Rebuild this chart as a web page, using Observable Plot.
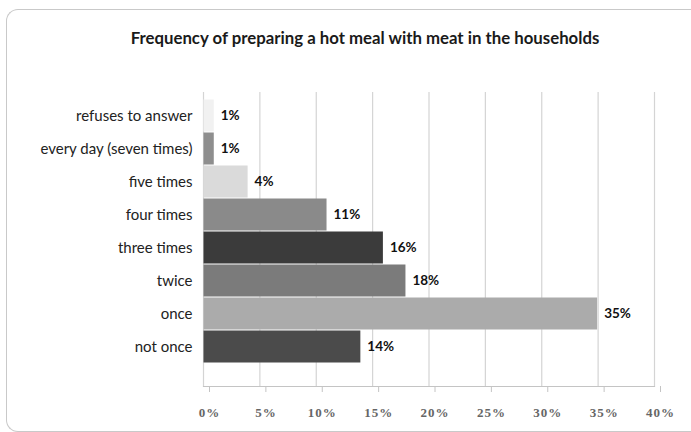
<!DOCTYPE html>
<html>
<head>
<meta charset="utf-8">
<script src="https://cdn.jsdelivr.net/npm/d3@7"></script>
<script src="https://cdn.jsdelivr.net/npm/@observablehq/plot@0.6"></script>
<style>
  html, body { margin: 0; padding: 0; background: #fff; }
  body { width: 691px; height: 432px; position: relative; overflow: hidden; }
  #frame { position: absolute; left: 6px; top: 9px; width: 685px; height: 423px; border: 1.5px solid #c9c9c9; border-right: none; border-radius: 12px 0 0 12px; box-sizing: border-box; }
  #title { position: absolute; left: 0; top: 27px; width: 730px; text-align: center; font-family: Lato, "Open Sans", sans-serif; font-weight: bold; font-size: 16.8px; color: #1a1a1a; }
  #chart { position: absolute; left: 0; top: 60px; }
</style>
</head>
<body>
<div id="frame"></div>
<div id="title">Frequency of preparing a hot meal with meat in the households</div>
<div id="chart"></div>
<script>
const categories = ["refuses to answer", "every day (seven times)", "five times", "four times", "three times", "twice", "once", "not once"];
const values = [1, 1, 4, 11, 16, 18, 35, 14];
const xTicks = [0, 5, 10, 15, 20, 25, 30, 35, 40];
const barColors = ["#f1f1f1", "#8e8e8e", "#dadada", "#8a8a8a", "#3b3b3b", "#7b7b7b", "#ababab", "#4b4b4b"];

const data = categories.map((c, i) => ({category: c, value: values[i]}));

const W = 691, H = 372;
const mTop = 32, mBottom = 46, mLeft = 203, mRight = 37;

const chart = Plot.plot({
  width: W,
  height: H,
  marginTop: mTop,
  marginBottom: mBottom,
  marginLeft: mLeft,
  marginRight: mRight,
  style: {fontFamily: "Lato, 'Open Sans', sans-serif", background: "transparent"},
  x: {domain: [0, 40], ticks: xTicks, label: null},
  y: {domain: categories, range: [36, 305], padding: 0, label: null},
  color: {domain: categories, range: barColors},
  marks: [
    Plot.ruleX(xTicks, {stroke: "#d4d4d4", strokeWidth: 1.2}),
    Plot.frame({anchor: "bottom", stroke: "#c4c4c4", strokeWidth: 1.2}),
    Plot.barX(data, {y: "category", x: "value", fill: "category", inset: 0.5}),
    Plot.text(data, {y: "category", x: "value", text: d => d.value + "%", textAnchor: "start", dx: 6, fontWeight: "bold", fontSize: 13.5, fill: "#111"}),
    Plot.axisX({ticks: xTicks, tickFormat: d => d + "%", tickSize: 6, tickPadding: 15, stroke: "#c4c4c4", fontFamily: "'Liberation Serif', serif", fontSize: 13, fontWeight: "bold", color: "#666", dx: 6, label: null}),
    Plot.axisY({tickSize: 0, tickPadding: 11, fontSize: 15, color: "#222", label: null})
  ]
});
d3.select(chart).selectAll('[aria-label="x-axis tick label"] text').style("letter-spacing", "1px");
document.getElementById("chart").appendChild(chart);
</script>
</body>
</html>
